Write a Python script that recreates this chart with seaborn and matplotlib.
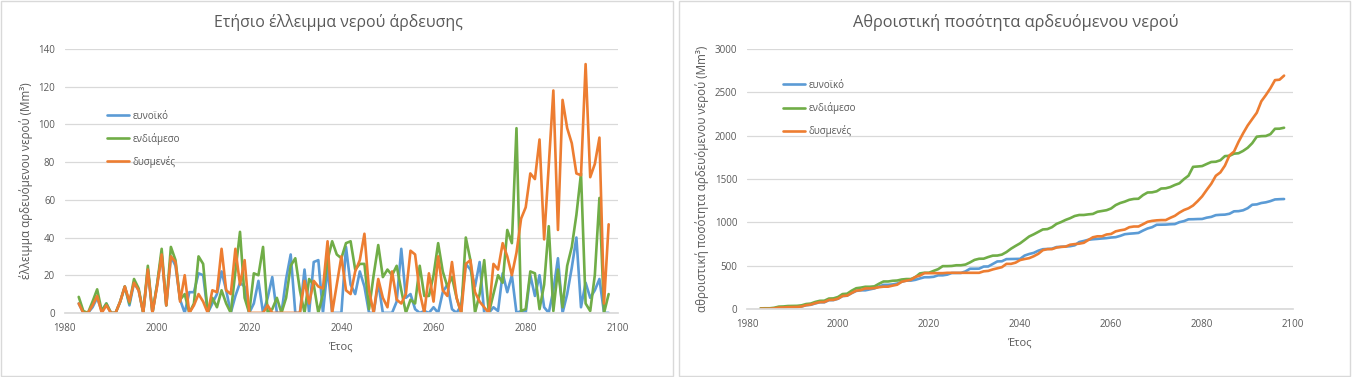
"""Irrigation water deficit charts (annual and cumulative) with seaborn"""

import matplotlib
matplotlib.use("Agg")
import matplotlib.pyplot as plt
from matplotlib.patches import Rectangle
import seaborn as sns
import pandas as pd

years = list(range(1983, 2099))
scenarios = ["ευνοϊκό", "ενδιάμεσο", "δυσμενές"]
colors = ["#5B9BD5", "#70AD47", "#ED7D31"]
x_ticks = [1980, 2000, 2020, 2040, 2060, 2080, 2100]

# annual deficit (Mm3)
annual_favourable = [
    5, 0, 0, 3, 8, 1, 5, 0, 0, 6,
    14, 4, 16, 12, 0, 23, 0, 15, 31, 4,
    30, 25, 7, 0, 11, 11, 21, 20, 0, 5,
    10, 22, 12, 0, 9, 16, 14, 0, 5, 17,
    0, 8, 19, 0, 0, 18, 31, 0, 0, 23,
    0, 27, 28, 0, 24, 0, 0, 0, 35, 15,
    10, 22, 14, 0, 0, 16, 0, 0, 0, 6,
    34, 8, 10, 2, 0, 1, 0, 3, 0, 11,
    15, 2, 0, 4, 26, 23, 14, 27, 0, 0,
    3, 1, 21, 11, 20, 0, 1, 0, 20, 9,
    20, 3, 0, 12, 29, 0, 10, 24, 40, 3,
    16, 8, 12, 18, 0, 0,
]
annual_intermediate = [
    8.5, 1, 0, 6, 12.5, 1, 5, 0, 0, 6,
    14, 5, 18, 13, 0, 25, 0, 15, 34, 4,
    35, 28, 7, 10, 0, 5, 30, 26, 0, 8,
    3, 12, 5, 0, 22, 43, 8, 0, 21, 20,
    35, 0, 2, 8, 0, 8, 25, 29, 12, 0,
    18, 15, 0, 10, 28, 38, 31, 29, 37, 38,
    23, 26, 26, 2, 20, 36, 19, 23, 20, 25,
    12, 0, 7, 5, 25, 9, 9, 20, 37, 22,
    14, 19, 8, 0, 40, 28, 0, 10, 28, 0,
    10, 20, 16, 44, 37, 98, 1, 2, 22, 21,
    2, 15, 46, 1, 23, 3, 25, 35, 52, 74,
    5, 1, 20, 61, 0, 10,
]
annual_adverse = [
    5, 0, 0, 4, 9, 0, 4, 0, 0, 6,
    14, 6, 16, 12, 0, 23, 0, 14, 31, 4,
    30, 27, 6, 20, 0, 4, 10, 6, 0, 12,
    11, 34, 12, 10, 34, 15, 28, 0, 0, 0,
    0, 4, 0, 0, 0, 0, 0, 0, 0, 17,
    5, 17, 14, 13, 38, 0, 15, 30, 12, 10,
    22, 28, 42, 12, 0, 18, 8, 3, 22, 7,
    5, 10, 33, 31, 11, 0, 21, 6, 30, 12,
    9, 27, 8, 0, 26, 28, 11, 6, 3, 0,
    26, 23, 37, 30, 20, 32, 50, 56, 74, 71,
    92, 39, 78, 118, 44, 113, 98, 90, 74, 73,
    132, 72, 79, 93, 5, 47,
]

# cumulative amount (Mm3)
cumulative_favourable = [
    5, 5, 5, 9, 17, 18, 24, 24, 24, 31,
    45, 50, 66, 79, 79, 103, 104, 120, 151, 155,
    185, 210, 217, 217, 228, 239, 260, 280, 280, 285,
    295, 317, 329, 329, 338, 354, 368, 368, 373, 390,
    390, 398, 417, 417, 417, 435, 466, 466, 467, 491,
    492, 521, 550, 552, 577, 578, 579, 580, 618, 636,
    649, 674, 691, 694, 697, 716, 719, 722, 726, 736,
    774, 786, 800, 806, 810, 815, 819, 826, 830, 845,
    864, 870, 874, 879, 906, 930, 945, 973, 974, 975,
    979, 981, 1003, 1015, 1036, 1037, 1039, 1040, 1055, 1064,
    1084, 1088, 1090, 1100, 1128, 1130, 1140, 1164, 1204, 1208,
    1224, 1232, 1246, 1265, 1268, 1270,
]
cumulative_intermediate = [
    9, 10, 10, 16, 29, 31, 36, 37, 38, 44,
    59, 64, 83, 96, 97, 122, 124, 140, 174, 178,
    213, 241, 248, 258, 258, 263, 293, 319, 319, 327,
    330, 342, 347, 347, 369, 412, 420, 420, 441, 461,
    496, 496, 498, 506, 506, 514, 539, 568, 581, 582,
    601, 617, 618, 629, 658, 697, 729, 759, 798, 838,
    863, 891, 919, 923, 945, 983, 1004, 1029, 1049, 1074,
    1086, 1086, 1093, 1098, 1123, 1132, 1141, 1161, 1200, 1224,
    1240, 1261, 1271, 1273, 1315, 1345, 1347, 1359, 1391, 1394,
    1408, 1432, 1451, 1499, 1539, 1641, 1645, 1650, 1674, 1697,
    1700, 1717, 1765, 1768, 1793, 1798, 1825, 1861, 1914, 1989,
    1995, 1997, 2018, 2080, 2081, 2092,
]
cumulative_adverse = [
    5, 5, 5, 9, 18, 19, 23, 24, 25, 31,
    46, 52, 69, 81, 82, 106, 107, 121, 152, 156,
    186, 213, 219, 239, 239, 243, 253, 259, 259, 271,
    282, 316, 328, 338, 372, 387, 415, 415, 415, 415,
    415, 419, 419, 419, 419, 419, 419, 419, 419, 436,
    441, 458, 471, 484, 522, 522, 536, 566, 578, 588,
    610, 638, 680, 692, 692, 710, 718, 721, 743, 750,
    755, 765, 798, 829, 840, 840, 861, 867, 897, 909,
    918, 945, 953, 953, 979, 1007, 1018, 1024, 1027, 1027,
    1053, 1076, 1113, 1143, 1163, 1195, 1245, 1301, 1375, 1446,
    1538, 1577, 1655, 1773, 1817, 1930, 2028, 2118, 2192, 2265,
    2397, 2469, 2548, 2641, 2646, 2693,
]

TEXT = "#595959"
GRID = "#D9D9D9"


def to_long(series: list) -> pd.DataFrame:
    """Wide lists -> long frame for seaborn"""
    wide = pd.DataFrame(dict(zip(scenarios, series)))
    wide["year"] = years
    return wide.melt(id_vars="year", var_name="scenario", value_name="value")


def draw_panel(ax, df, title, ylabel, ymax, ystep, title_x, title_size, legend_anchor):
    """One Excel-like line chart"""
    sns.lineplot(data=df, x="year", y="value", hue="scenario",
                 hue_order=scenarios, palette=colors, linewidth=1.9, ax=ax)
    ax.set_xlim(1980, 2100)
    ax.set_ylim(0, ymax)
    ax.set_xticks(x_ticks)
    ax.set_yticks(range(0, ymax + 1, ystep))
    ax.grid(axis="y", color=GRID, linewidth=0.9)
    ax.grid(axis="x", visible=False)
    for side in ["left", "right", "top"]:
        ax.spines[side].set_visible(False)
    ax.spines["bottom"].set_color(GRID)
    ax.tick_params(length=0, labelsize=7, labelcolor=TEXT, pad=7)
    ax.set_xlabel("Έτος", fontsize=8, color=TEXT, labelpad=6)
    ax.set_ylabel(ylabel, fontsize=8.4, color=TEXT, labelpad=4)
    ax.figure.text(title_x, 0.94, title, fontsize=title_size, color=TEXT,
                   ha="center", va="center")
    leg = ax.legend(loc="upper left", bbox_to_anchor=legend_anchor,
                    frameon=False, fontsize=7, handlelength=2.3,
                    handletextpad=0.35, labelspacing=1.15)
    for t in leg.get_texts():
        t.set_color(TEXT)


def main() -> None:
    sns.set_theme(style="white")
    plt.rcParams["font.family"] = ["Open Sans", "DejaVu Sans"]

    fig = plt.figure(figsize=(13.52, 3.77), dpi=100)
    fig.patch.set_facecolor("white")

    # chart borders
    for x0, w in [(1, 672), (679, 671)]:
        fig.patches.append(Rectangle((x0 / 1352, 1 / 377), w / 1352, 375 / 377,
                                     transform=fig.transFigure, fill=False,
                                     edgecolor=GRID, linewidth=1))

    ax1 = fig.add_axes([0.048, 0.170, 0.409, 0.700])
    ax2 = fig.add_axes([0.5525, 0.180, 0.404, 0.690])

    draw_panel(ax1, to_long([annual_favourable, annual_intermediate, annual_adverse]),
               "Ετήσιο έλλειμμα νερού άρδευσης",
               "έλλειμμα αρδευόμενου νερού (Mm³)", 140, 20, 0.25, 11.4, (0.06, 0.8))
    draw_panel(ax2, to_long([cumulative_favourable, cumulative_intermediate,
                             cumulative_adverse]),
               "Αθροιστική ποσότητα αρδευόμενου νερού",
               "αθροιστική ποσότητα αρδευόμενου νερού (Mm³)", 3000, 500, 0.751, 11.8,
               (0.05, 0.915))

    fig.savefig("out.png", dpi=100, facecolor="white")


if __name__ == "__main__":
    main()
